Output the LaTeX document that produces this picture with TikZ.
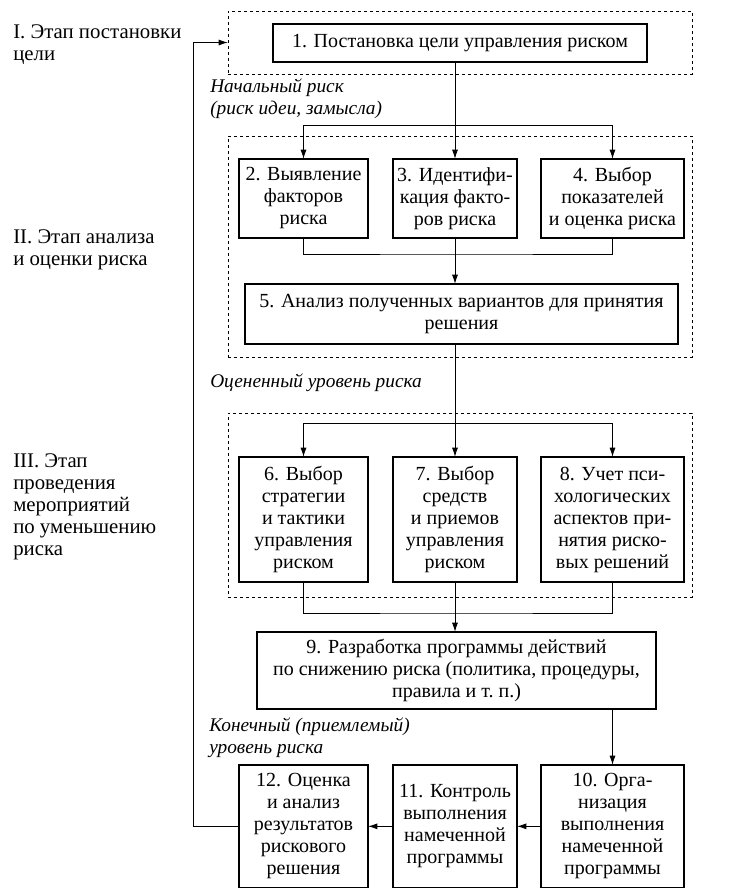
\documentclass[tikz,border=0pt]{standalone}
\usepackage{fontspec}
\setmainfont{Liberation Serif}
\usetikzlibrary{positioning,arrows.meta}
\newcommand\boxfont{\fontsize{15pt}{16.5pt}\selectfont}
\newcommand\notefont{\fontsize{14.5pt}{16.5pt}\selectfont\itshape}
\newcommand\stagefont{\fontsize{15.6pt}{16.5pt}\selectfont}

\begin{document}
\begin{tikzpicture}[
    x=0.75pt, y=-0.75pt,
    font=\boxfont,
    box/.style={
        draw, line width=0.9pt, outer sep=0pt,
        align=center, inner sep=2pt
    },
    c1/.style={box, minimum width=96.75pt},
    c2/.style={box, minimum width=93pt},
    c3/.style={box, minimum width=107.25pt},
    r1/.style={minimum height=59.25pt},
    r2/.style={minimum height=93.75pt},
    r3/.style={minimum height=92pt},
    frame/.style={
        draw, line width=0.6pt, dash pattern=on 2.5pt off 2pt,
        minimum width=348pt, inner sep=0pt, outer sep=0pt
    },
    arr/.style={line width=0.7pt, -{Latex[length=7pt,width=4.5pt]}},
    ln/.style={line width=0.7pt},
    note/.style={font=\notefont, align=left, inner sep=0pt, anchor=west},
    stage/.style={font=\stagefont, align=left, inner sep=0pt, anchor=west}
]
\useasboundingbox (0,0) rectangle (744,890);

% dashed stage frames
\node [frame, minimum height=47.25pt] (stage1) at (460,42.5) {};
\node [frame, minimum height=165.75pt] (stage2) at (460,246.5) {};
\node [frame, minimum height=138pt] (stage3) at (460,505) {};

% stage labels
\node [stage] (lab1) at (13,44.5) {I. Этап постановки\\цели};
\node [stage] (lab2) at (13,249.5) {II. Этап анализа\\и оценки риска};
\node [stage] (lab3) at (13,506.5) {III. Этап\\проведения\\мероприятий\\по уменьшению\\риска};

% boxes
\node [box, minimum width=280.5pt, minimum height=28.5pt] (b1) at (460,43)
    {1. Постановка цели управления риском};

\node [c2,r1,below=72.75pt of b1,xshift=-3.75pt] (b3) {3. Идентифи-\\кация факто-\\ров риска};
\node [c1,r1,left=18.75pt of b3] (b2) {2. Выявление\\факторов\\риска};
\node [c3,r1,right=18pt of b3] (b4) {4. Выбор\\показателей\\и оценка риска};

\node [box, minimum width=324.75pt, minimum height=45pt,
       below=34.5pt of b3, xshift=4.875pt] (b5)
    {5. Анализ полученных вариантов для принятия\\решения};

\node [c2,r2,below=84.75pt of b5,xshift=-4.875pt] (b7) {7. Выбор\\средств\\и приемов\\управления\\риском};
\node [c1,r2,left=18.75pt of b7] (b6) {6. Выбор\\стратегии\\и тактики\\управления\\риском};
\node [c3,r2,right=18pt of b7] (b8) {8. Учет пси-\\хологических\\аспектов при-\\нятия риско-\\вых решений};

\node [box, minimum width=299.25pt, minimum height=57.75pt,
       below=37.5pt of b7, xshift=1.125pt] (b9)
    {9. Разработка программы действий\\по снижению риска (политика, процедуры,\\правила и т.~п.)};

\node [c2,r3,below=137.25pt of b7] (b11) {11. Контроль\\выполнения\\намеченной\\программы};
\node [c1,r3,left=18.75pt of b11] (b12) {12. Оценка\\и анализ\\результатов\\рискового\\решения};
\node [c3,r3,right=18pt of b11] (b10) {10. Орга-\\низация\\выполнения\\намеченной\\программы};

% level notes
\node [note] (n1) at (210,99) {Начальный риск\\(риск идеи, замысла)};
\node [note] (n2) at (210,383) {Оцененный уровень риска};
\node [note] (n3) at (209,738) {Конечный (приемлемый)\\уровень риска};

% forks and joins
\coordinate [above=25.5pt of b3] (fork1);
\coordinate [below=12pt of b3] (join1);
\coordinate [above=25.5pt of b7] (fork2);
\coordinate [below=23.25pt of b7] (join2);

\draw [arr] (b1.south -| b3) -- (b3);
\draw [arr] (fork1) -| (b2);
\draw [arr] (fork1) -| (b4);
\draw [ln] (b2) |- (join1) -| (b4);
\draw [arr] (b3) -- (b3 |- b5.north);

\draw [arr] (b5.south -| b7) -- (b7);
\draw [arr] (fork2) -| (b6);
\draw [arr] (fork2) -| (b8);
\draw [ln] (b6) |- (join2) -| (b8);
\draw [arr] (b7) -- (b7 |- b9.north);

\draw [arr] (b9.south -| b10) -- (b10);
\draw [arr] (b10) -- (b11);
\draw [arr] (b11) -- (b12);
\draw [arr] (b12.west) -- ++(-34.5pt,0) |- (stage1);

\end{tikzpicture}
\end{document}
